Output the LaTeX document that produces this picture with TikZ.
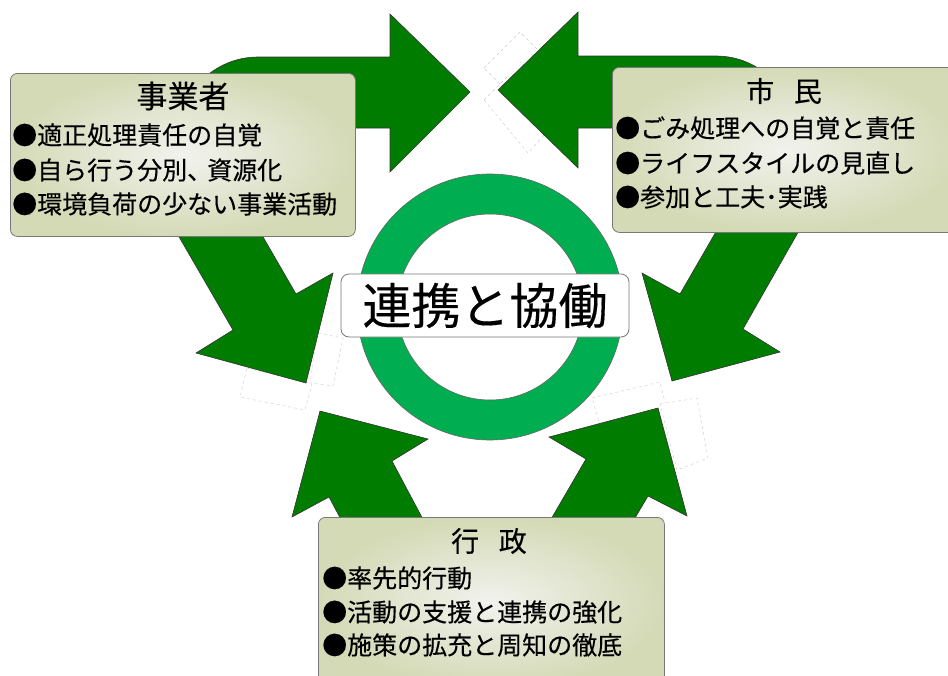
\documentclass[tikz,border=0pt]{standalone}
\usepackage{fontspec}
\newfontfamily\jp[FakeBold=0.3]{Noto Sans CJK JP}
\definecolor{arrowgreen}{RGB}{0,125,0}
\definecolor{ringgreen}{RGB}{0,173,80}
\definecolor{boxouter}{RGB}{212,218,182}
\definecolor{boxinner}{RGB}{242,242,238}
\definecolor{edgegray}{RGB}{120,120,120}
\begin{document}
\begin{tikzpicture}[x=1pt,y=-1pt,
  bigarrow/.style={fill=arrowgreen, draw=black!80, line width=0.6pt, line join=miter},
  ghost/.style={draw=gray!40, dashed, line width=0.4pt, fill=white},
  infobox/.style={draw=edgegray, line width=0.8pt, rounded corners=7pt,
    inner color=boxinner, outer color=boxouter, anchor=north west, inner sep=0pt},
  boxtitle/.style={font=\jp\fontsize{28}{30}\selectfont, inner sep=0pt},
  item/.style={font=\jp\fontsize{25}{28}\selectfont, inner sep=0pt, anchor=west},
  centerlabel/.style={draw=edgegray, fill=white, line width=0.8pt, rounded corners=8pt,
    minimum width=288pt, minimum height=63pt, inner sep=0pt,
    font=\jp\fontsize{49}{52}\selectfont}]
\useasboundingbox (0,0) rectangle (948,675);
\fill[white] (0,0) rectangle (948,675);

% faint ghost frames behind the arrow heads
\path[ghost] (484,68) -- (520,32) -- (545,57) -- (509,93) -- cycle;
\path[ghost] (484,100) -- (508,76) -- (553,125) -- (528,153) -- cycle;
\path[ghost] (247,368) -- (312,384) -- (305,410) -- (240,397) -- cycle;
\path[ghost] (318,333) -- (343,338) -- (333,386) -- (310,383) -- cycle;
\path[ghost] (592,398) -- (660,382) -- (666,406) -- (600,425) -- cycle;
\path[ghost] (660,404) -- (697,398) -- (708,458) -- (677,470) -- cycle;

% top-left arrow (事業者 -> right)
\path[bigarrow] (178,200) -- (178,137) .. controls (178,93) and (214,57) .. (258,57)
  -- (390,57) -- (390,14) -- (470,92) -- (390,172) -- (390,128) -- (300,128) -- (300,200) -- cycle;
% top-right arrow (市民 -> left)
\path[bigarrow] (796,200) -- (796,136) .. controls (796,92) and (760,56) .. (716,56)
  -- (578,56) -- (578,12) -- (498,90) -- (578,168) -- (578,128) -- (680,128) -- (680,200) -- cycle;
% left down arrow
\path[bigarrow] (149,185) -- (233,330) -- (196,353) -- (306,383) -- (333,273) -- (296,294) -- (233,185) -- cycle;
% right down arrow
\path[bigarrow] (743,185) -- (680,294) -- (642,273) -- (672,381) -- (780,352) -- (743,329) -- (825,185) -- cycle;
% bottom-left arrow
\path[bigarrow] (361,557) -- (329,497) -- (292,517) -- (320,411) -- (428,439) -- (392,461) -- (443,557) -- cycle;
% bottom-right arrow
\path[bigarrow] (529,557) -- (586,459) -- (549,437) -- (658,408) -- (687,516) -- (648,496) -- (612,557) -- cycle;

% ring
\path[fill=ringgreen, draw=black!60, line width=0.6pt, even odd rule]
  (490,307) circle[radius=133] (490,307) circle[radius=93];

% central label
\node[centerlabel] (center) at (485,305.5) {連携と協働};

% boxes
\node[infobox, minimum width=345pt, minimum height=163pt] (jbox) at (10,73) {};
\node[infobox, minimum width=345pt, minimum height=165pt] (sbox) at (612,67) {};
\node[infobox, minimum width=346pt, minimum height=170pt] (gbox) at (318,517) {};

% 事業者
\node[boxtitle, font=\jp\fontsize{31}{33}\selectfont] (jtitle) at (183,96) {事業者};
\node[item] (j1) at (12,135) {●適正処理責任の自覚};
\node[item] (j2) at (12,170) {●自ら行う分別、\kern-5pt資源化};
\node[item] (j3) at (12,204) {●環境負荷の少ない事業活動};

% 市民
\node[boxtitle] (stitle) at (784,91) {市\hspace{0.7em}民};
\node[item] (s1) at (615,128) {●ごみ処理への自覚と責任};
\node[item] (s2) at (615,163) {●ライフスタイルの見直し};
\node[item] (s3) at (615,197) {●参加と工夫･実践};

% 行政
\node[boxtitle] (gtitle) at (489,541) {行\hspace{0.7em}政};
\node[item] (g1) at (322,578) {●率先的行動};
\node[item] (g2) at (322,612) {●活動の支援と連携の強化};
\node[item] (g3) at (322,645) {●施策の拡充と周知の徹底};
\end{tikzpicture}
\end{document}
